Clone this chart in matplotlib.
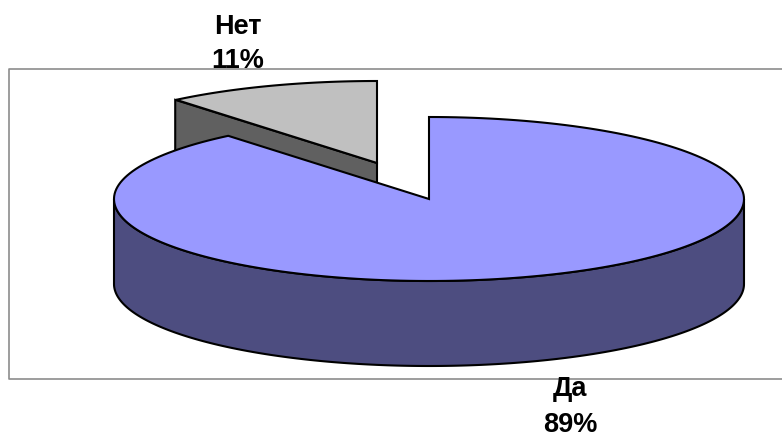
"""Exploded 3D-style pie: Да / Нет shares, drawn in pixel coordinates."""
import matplotlib
import numpy as np

matplotlib.use("Agg")
import matplotlib.pyplot as plt  # noqa: E402

labels = ["Да", "Нет"]
shares = [89, 11]

W, H = 782, 434
CX, CY = 429, 199      # apex of the big slice
RX, RY = 315, 82
DEPTH = 85
SHIFT = (-52, -36)     # explosion offset of the small slice
EDGE = "#000000"
LW = 1.5


def rim(cx, cy, a0, a1, n=200):
    t = np.radians(np.linspace(a0, a1, n))
    return cx + RX * np.cos(t), cy - RY * np.sin(t)


def main():
    plt.rcParams["font.family"] = ["Liberation Sans", "DejaVu Sans"]
    fig = plt.figure(figsize=(W / 100, H / 100), dpi=100)
    ax = fig.add_axes([0, 0, 1, 1])
    ax.set_xlim(0, W)
    ax.set_ylim(H, 0)
    ax.axis("off")

    # frame, open on the right as the plot area runs off the image
    ax.plot([W + 5, 9, 9, W + 5], [69, 69, 379, 379], c="#8c8c8c", lw=1.2, zorder=1)

    split = 90 + 360 * shares[1] / sum(shares)

    # small slice, pulled out: cut face first, then the top
    sx, sy = CX + SHIFT[0], CY + SHIFT[1]
    ex, ey = rim(sx, sy, split, split, 1)
    ax.fill([sx, ex[0] - 1, ex[0] - 1, sx], [sy, ey[0], ey[0] + DEPTH, sy + DEPTH],
            fc="#606060", ec=EDGE, lw=LW, zorder=2)
    x, y = rim(sx, sy, 90, split)
    ax.fill(np.r_[sx, x], np.r_[sy, y], fc="#c0c0c0", ec=EDGE, lw=LW, zorder=3)

    # big slice: front wall, then the top
    x, y = rim(CX, CY, 180, 360)
    ax.fill(np.r_[x, x[::-1]], np.r_[y, y[::-1] + DEPTH], fc="#4d4d80", ec=EDGE,
            lw=LW, zorder=4)
    x, y = rim(CX, CY, split, 450)
    ax.fill(np.r_[CX, x], np.r_[CY, y], fc="#9999ff", ec=EDGE, lw=LW, zorder=5)

    ax.text(238, 44, f"{labels[1]}\n{shares[1]}%", ha="center", va="center",
            fontsize=19.5, fontweight="bold", linespacing=1.45, zorder=6)
    ax.text(570, 407, f"{labels[0]}\n{shares[0]}%", ha="center", va="center",
            fontsize=19.5, fontweight="bold", linespacing=1.45, zorder=6)

    fig.savefig("out.png", dpi=100)


if __name__ == "__main__":
    main()
